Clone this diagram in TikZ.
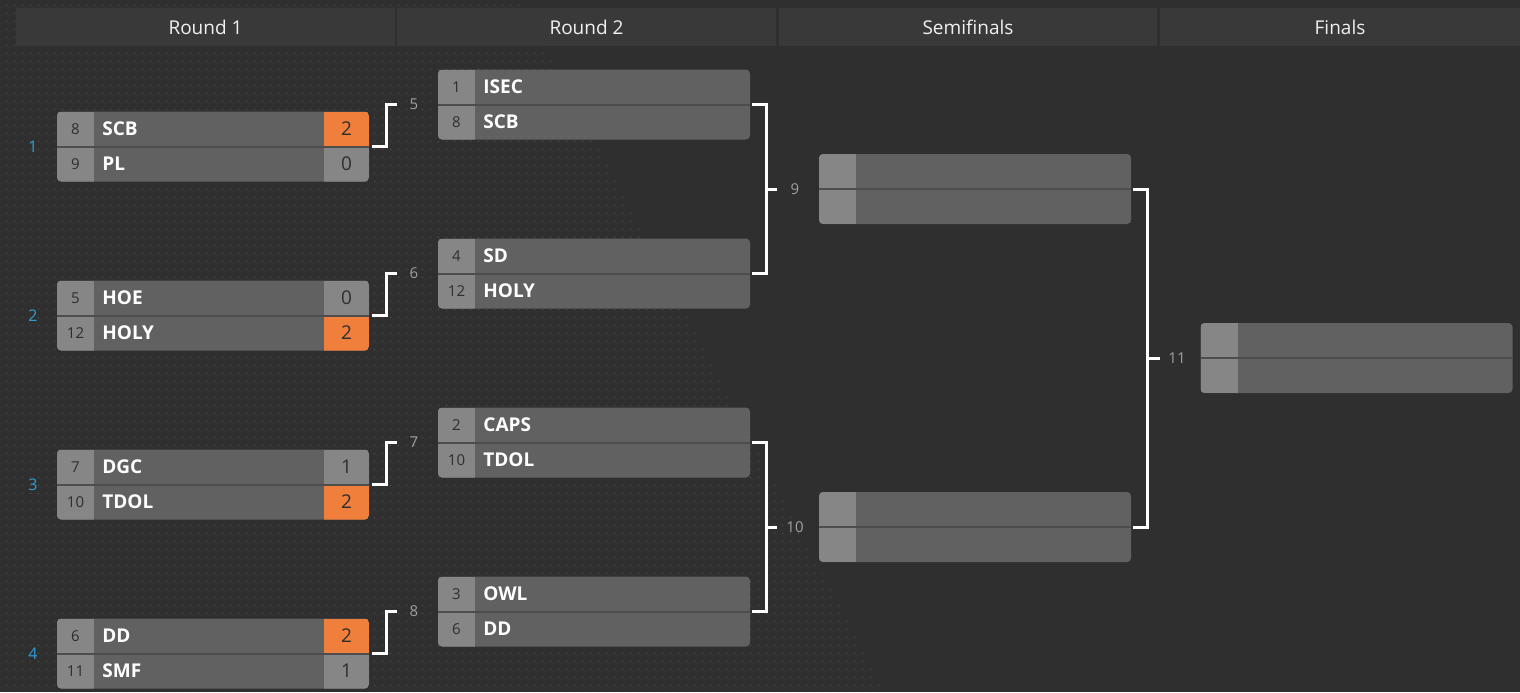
\documentclass[tikz,border=0pt]{standalone}
\usepackage{fontspec}
\setmainfont{Open Sans}
\usetikzlibrary{patterns.meta}

\definecolor{bggray}{HTML}{2F2F2F}
\definecolor{headgray}{HTML}{393939}
\definecolor{dotgray}{HTML}{484848}
\definecolor{namegray}{HTML}{616161}
\definecolor{seedgray}{HTML}{868686}
\definecolor{wincolor}{HTML}{F07F3B}
\definecolor{linegray}{HTML}{4D4D4D}
\definecolor{seedtext}{HTML}{2E2E2E}
\definecolor{labelgray}{HTML}{A0A0A0}
\definecolor{roundblue}{HTML}{2D9CDB}

\tikzdeclarepattern{
  name=bgdots,
  type=uncolored,
  bounding box={(-2pt,-2pt) and (2pt,2pt)},
  tile size={(4pt,4pt)},
  code={\fill (0pt,0pt) circle (0.5pt);}
}

\tikzset{
  matchbox/.style={rectangle, rounded corners=2pt, fill=namegray, minimum width=156pt,
    minimum height=35pt, inner sep=0pt,
    path picture={
      \fill[seedgray,sharp corners] (path picture bounding box.north west) rectangle ([xshift=18.5pt]path picture bounding box.south west);
      \draw[linegray,line width=1pt,sharp corners] (path picture bounding box.west) -- (path picture bounding box.east);}},
  r1box/.style 2 args={matchbox,
    path picture={
      \fill[seedgray,sharp corners] (path picture bounding box.north west) rectangle ([xshift=18.5pt]path picture bounding box.south west);
      \fill[#1,sharp corners] ([xshift=-22.5pt]path picture bounding box.north east) rectangle (path picture bounding box.east);
      \fill[#2,sharp corners] ([xshift=-22.5pt]path picture bounding box.east) rectangle (path picture bounding box.south east);
      \draw[linegray,line width=1pt,sharp corners] (path picture bounding box.west) -- (path picture bounding box.east);}},
  head/.style={fill=headgray, minimum height=19pt, inner sep=0pt, text=white!94!black,
    font=\fontsize{9.5}{11}\selectfont},
  seed/.style={text=seedtext, inner sep=0pt, font=\fontsize{7.5}{9}\selectfont},
  team/.style={text=white, inner sep=0pt, anchor=west, font=\fontsize{9.5}{11}\selectfont\bfseries},
  score/.style={text=seedtext, inner sep=0pt, font=\fontsize{9.5}{11}\selectfont},
  mlabel/.style={text=labelgray, inner sep=0pt, font=\fontsize{7.5}{9}\selectfont},
  rlabel/.style={text=roundblue, inner sep=0pt, font=\fontsize{8}{9}\selectfont},
  link/.style={draw=white, line width=1.5pt}
}

\begin{document}
\begin{tikzpicture}[x=0.5pt,y=-0.5pt]
	\useasboundingbox (0,0) rectangle (1520,692);
	\fill[bggray] (0,0) rectangle (1520,692);
	\fill[pattern=bgdots, pattern color=dotgray] (0,0) -- (520,0) -- (885,692) -- (0,692) -- cycle;

	% header
	\node[head, minimum width=189.5pt](h1) at (205.5,27) {Round 1};
	\node[head, minimum width=189.5pt](h2) at (586.5,27) {Round 2};
	\node[head, minimum width=189pt](h3) at (968,27) {Semifinals};
	\node[head, minimum width=180pt](h4) at (1340,27) {Finals};

	% round 1
	\node[r1box={wincolor}{seedgray}](m1) at (213,146.5) {};
	\node[r1box={seedgray}{wincolor}](m2) at (213,315.5) {};
	\node[r1box={seedgray}{wincolor}](m3) at (213,484.5) {};
	\node[r1box={wincolor}{seedgray}](m4) at (213,653.5) {};

	\node[rlabel](r1) at (33,147) {1};
	\node[rlabel](r2) at (33,316) {2};
	\node[rlabel](r3) at (33,485) {3};
	\node[rlabel](r4) at (33,654) {4};

	\node[seed] at (75.5,129) {8};   \node[team] at (102,129) {SCB};  \node[score] at (346.5,129) {2};
	\node[seed] at (75.5,164) {9};   \node[team] at (102,164) {PL};   \node[score] at (346.5,164) {0};
	\node[seed] at (75.5,298) {5};   \node[team] at (102,298) {HOE};  \node[score] at (346.5,298) {0};
	\node[seed] at (75.5,333) {12};  \node[team] at (102,333) {HOLY}; \node[score] at (346.5,333) {2};
	\node[seed] at (75.5,467) {7};   \node[team] at (102,467) {DGC};  \node[score] at (346.5,467) {1};
	\node[seed] at (75.5,502) {10};  \node[team] at (102,502) {TDOL}; \node[score] at (346.5,502) {2};
	\node[seed] at (75.5,636) {6};   \node[team] at (102,636) {DD};   \node[score] at (346.5,636) {2};
	\node[seed] at (75.5,671) {11};  \node[team] at (102,671) {SMF};  \node[score] at (346.5,671) {1};

	% round 2
	\node[matchbox](m5) at (594,104.5) {};
	\node[matchbox](m6) at (594,273.5) {};
	\node[matchbox](m7) at (594,442.5) {};
	\node[matchbox](m8) at (594,611.5) {};

	\node[seed] at (456.5,87) {1};   \node[team] at (483,87) {ISEC};
	\node[seed] at (456.5,122) {8};  \node[team] at (483,122) {SCB};
	\node[seed] at (456.5,256) {4};  \node[team] at (483,256) {SD};
	\node[seed] at (456.5,291) {12}; \node[team] at (483,291) {HOLY};
	\node[seed] at (456.5,425) {2};  \node[team] at (483,425) {CAPS};
	\node[seed] at (456.5,460) {10}; \node[team] at (483,460) {TDOL};
	\node[seed] at (456.5,594) {3};  \node[team] at (483,594) {OWL};
	\node[seed] at (456.5,629) {6};  \node[team] at (483,629) {DD};

	% semifinals and finals
	\node[matchbox](m9) at (975,189) {};
	\node[matchbox](m10) at (975,527) {};
	\node[matchbox](m11) at (1356.5,358) {};

	% match numbers
	\node[mlabel](l5) at (414,104) {5};
	\node[mlabel](l6) at (414,273) {6};
	\node[mlabel](l7) at (414,442) {7};
	\node[mlabel](l8) at (414,611) {8};
	\node[mlabel](l9) at (795,189) {9};
	\node[mlabel](l10) at (795,527) {10};
	\node[mlabel](l11) at (1177,358) {11};

	\coordinate (c5) at (397,104.5);
	\coordinate (c6) at (397,273.5);
	\coordinate (c7) at (397,442.5);
	\coordinate (c8) at (397,611.5);
	\coordinate (c9) at (777,189);
	\coordinate (c10) at (777,527);
	\coordinate (c11) at (1160,358);

	\draw[link]([xshift=1.5pt]m1.east) -| ([xshift=-5.5pt]c5) -- (c5);
	\draw[link]([xshift=1.5pt]m2.east) -| ([xshift=-5.5pt]c6) -- (c6);
	\draw[link]([xshift=1.5pt]m3.east) -| ([xshift=-5.5pt]c7) -- (c7);
	\draw[link]([xshift=1.5pt]m4.east) -| ([xshift=-5.5pt]c8) -- (c8);

	\draw[link]([xshift=1pt]m5.east) -- ++(14,0) |- ([xshift=1pt]m6.east);
	\draw[link]([xshift=1pt]m7.east) -- ++(14,0) |- ([xshift=1pt]m8.east);
	\draw[link](c9) -- ([xshift=-5.5pt]c9);
	\draw[link](c10) -- ([xshift=-5.5pt]c10);

	\draw[link]([xshift=1pt]m9.east) -- ++(14,0) |- ([xshift=1pt]m10.east);
	\draw[link](c11) -- ([xshift=-6.5pt]c11);
\end{tikzpicture}
\end{document}
